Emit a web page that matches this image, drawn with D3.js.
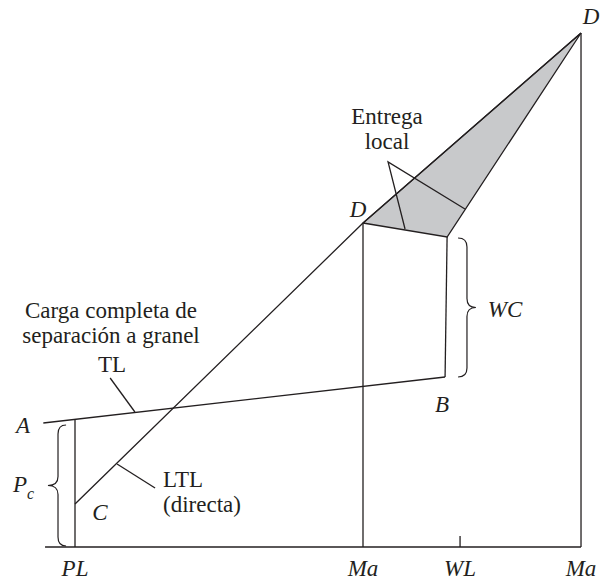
<!DOCTYPE html>
<html>
<head>
<meta charset="utf-8">
<script src="https://cdn.jsdelivr.net/npm/d3@7"></script>
<style>
  body { margin: 0; background: #fff; }
  text { font-family: "Liberation Serif", "Times New Roman", serif; font-size: 23px; fill: #231f20; }
  .it { font-style: italic; }
</style>
</head>
<body>
<script>
// locations along the distance axis
const locations = ["PL", "Ma", "WL", "Ma"];
const locationX = [0, 10, 13.37, 17.57];

// cost lines (distance, cost)
const tlLine = [[-1.1, 24.8], [12.85, 34]];          // A -> B (carga completa TL)
const ltlLine = [[0, 8.6], [10, 64.8], [17.57, 102.8]]; // C -> D -> D (LTL directa)
const deliveryArea = [[10, 64.8], [12.92, 62], [17.57, 102.8]]; // entrega local (sombreado)
const wcLine = [[12.85, 34], [12.92, 62]];           // B -> warehouse cost
const plLine = [[0, 0], [0, 25.6]];
const maLine = [[10, 0], [10, 64.8]];
const ma2Line = [[17.57, 0], [17.57, 102.8]];

// leader lines for labels
const entregaLeaders = [[[11.46, 63.6], [10.87, 77], [13.54, 67.6]]];
const tlLeader = [[1.22, 33.8], [2.08, 27]];
const ltlLeader = [[1.46, 16.6], [2.78, 11.8]];

const width = 601, height = 582;

const svg = d3.select("body").append("svg")
  .attr("width", width)
  .attr("height", height);

const x = d3.scaleLinear().domain([0, 10]).range([75, 363]);
const y = d3.scaleLinear().domain([0, 100]).range([547, 47]);

const line = d3.line().x(d => x(d[0])).y(d => y(d[1]));
const ink = "#231f20";

// shaded local delivery area
svg.append("path")
  .attr("d", line(deliveryArea) + "Z")
  .attr("fill", "#c8c9cb")
  .attr("stroke", ink)
  .attr("stroke-width", 1.3)
  .attr("stroke-linejoin", "miter");

// axis
svg.append("line")
  .attr("x1", x(-1.04)).attr("x2", x(17.57))
  .attr("y1", y(0)).attr("y2", y(0))
  .attr("stroke", ink).attr("stroke-width", 1.5);
svg.append("line")
  .attr("x1", x(locationX[2])).attr("x2", x(locationX[2]))
  .attr("y1", y(0)).attr("y2", y(2.2))
  .attr("stroke", ink).attr("stroke-width", 1.3);

[tlLine, ltlLine, wcLine, plLine, maLine, ma2Line, tlLeader, ltlLeader].forEach(d => {
  svg.append("path")
    .attr("d", line(d))
    .attr("fill", "none")
    .attr("stroke", ink)
    .attr("stroke-width", 1.3);
});
entregaLeaders.forEach(d => {
  svg.append("path")
    .attr("d", line(d))
    .attr("fill", "none")
    .attr("stroke", ink)
    .attr("stroke-width", 1.3);
});

// curly braces
function brace(x0, xm, xt, y1, y2) {
  const ym = (y1 + y2) / 2, r = 9;
  return `M${x0},${y1} Q${xm},${y1} ${xm},${y1 + r} L${xm},${ym - r} Q${xm},${ym} ${xt},${ym}` +
    ` Q${xm},${ym} ${xm},${ym + r} L${xm},${y2 - r} Q${xm},${y2} ${x0},${y2}`;
}
svg.append("path")
  .attr("d", brace(x(-0.31), x(-0.59), x(-0.94), y(24.4), y(0.2)))
  .attr("fill", "none").attr("stroke", ink).attr("stroke-width", 1.2);
svg.append("path")
  .attr("d", brace(x(13.3), x(13.61), x(13.92), y(61.8), y(34)))
  .attr("fill", "none").attr("stroke", ink).attr("stroke-width", 1.2);

// axis labels
svg.selectAll(".loc")
  .data(locations)
  .enter()
  .append("text")
  .attr("class", "loc it")
  .attr("x", (d, i) => x(locationX[i]))
  .attr("y", 576)
  .attr("text-anchor", "middle")
  .text(d => d);

// point labels
const pointLabels = [
  { t: "A", px: 23, py: 433 },
  { t: "B", px: 442, py: 412 },
  { t: "C", px: 100, py: 520 },
  { t: "D", px: 358, py: 217 },
  { t: "D", px: 591, py: 24 },
  { t: "WC", px: 505, py: 317 }
];
svg.selectAll(".pt")
  .data(pointLabels)
  .enter()
  .append("text")
  .attr("class", "pt it")
  .attr("x", d => d.px)
  .attr("y", d => d.py)
  .attr("text-anchor", "middle")
  .text(d => d.t);

const pc = svg.append("text").attr("class", "it").attr("x", 13).attr("y", 492);
pc.append("tspan").text("P");
pc.append("tspan").attr("font-size", "16px").attr("dy", 7).text("c");

// text labels
const blocks = [
  { lines: ["Entrega", "local"], cx: 387, y0: 124, anchor: "middle" },
  { lines: ["Carga completa de", "separación a granel"], cx: 111, y0: 318, anchor: "middle" },
  { lines: ["TL"], cx: 112, y0: 372, anchor: "middle" },
  { lines: ["LTL", "(directa)"], cx: 163, y0: 487, anchor: "start" }
];
blocks.forEach(b => {
  svg.append("g").selectAll("text")
    .data(b.lines)
    .enter()
    .append("text")
    .attr("x", b.cx)
    .attr("y", (d, i) => b.y0 + i * 25)
    .attr("text-anchor", b.anchor)
    .text(d => d);
});
</script>
</body>
</html>
